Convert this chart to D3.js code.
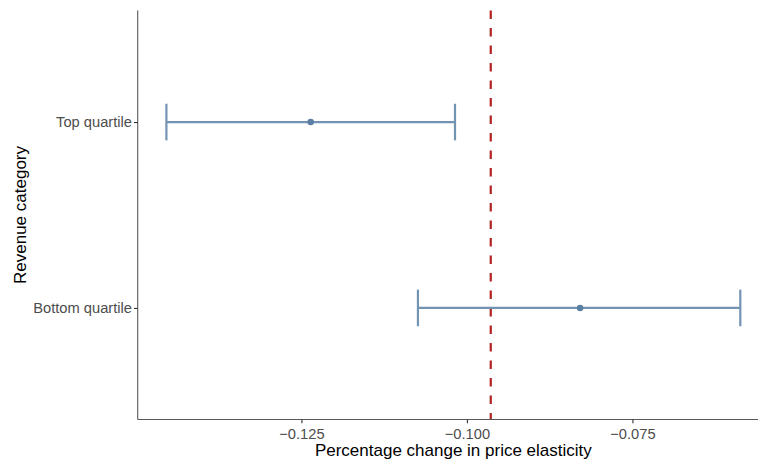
<!DOCTYPE html>
<html><head><meta charset="utf-8">
<script src="https://cdn.jsdelivr.net/npm/d3@7"></script>
<style>body{margin:0;background:#fff}svg{display:block}</style>
</head><body>
<svg id="c" width="758" height="463"></svg>
<script>
const categories = ["Bottom quartile", "Top quartile"];
const estimates = [-0.0829, -0.1236];
const lower = [-0.1074, -0.1454];
const upper = [-0.0587, -0.1018];
const referenceValue = -0.0964;
const xTicks = [-0.125, -0.100, -0.075];
const xTickLabels = ["\u22120.125", "\u22120.100", "\u22120.075"];

(function () {
const svg = d3.select("#c");
const pL = 137.7, pR = 769, pT = 10.5, pB = 419.5;
const font = "Liberation Sans, Arial, sans-serif";

const dmin = d3.min(lower), dmax = d3.max(upper), pad = (dmax - dmin) * 0.05;
const x = d3.scaleLinear().domain([dmin - pad, dmax + pad]).range([pL, pR]);
const y = d3.scalePoint().domain(categories).range([pB, pT]).padding(0.6);

const gray = "#4D4D4D";
const barCol = "#7293B2";
const ptCol = "#5A7FA3";

svg.append("line").attr("x1", x(referenceValue)).attr("x2", x(referenceValue))
  .attr("y1", pT).attr("y2", pB)
  .attr("stroke", "#B22222").attr("stroke-width", 2.2).attr("stroke-dasharray", "8.5,9");

const data = categories.map((c, i) => ({c, e: estimates[i], lo: lower[i], hi: upper[i]}));
const g = svg.append("g");
data.forEach(d => {
  const yy = y(d.c);
  g.append("line").attr("x1", x(d.lo)).attr("x2", x(d.hi)).attr("y1", yy).attr("y2", yy)
    .attr("stroke", barCol).attr("stroke-width", 2.2);
  [d.lo, d.hi].forEach(v => g.append("line").attr("x1", x(v)).attr("x2", x(v))
    .attr("y1", yy - 18.3).attr("y2", yy + 18.3).attr("stroke", barCol).attr("stroke-width", 2.2));
  g.append("circle").attr("cx", x(d.e)).attr("cy", yy).attr("r", 3.3).attr("fill", ptCol);
});

const xa = svg.append("g").attr("transform", `translate(0,${pB})`)
  .call(d3.axisBottom(x).tickValues(xTicks).tickFormat((d, i) => xTickLabels[i]).tickSize(3.7).tickPadding(5.4));
const ya = svg.append("g").attr("transform", `translate(${pL},0)`)
  .call(d3.axisLeft(y).tickSize(3.7).tickPadding(2));
[xa, ya].forEach(a => {
  a.select(".domain").attr("stroke", "#595959").attr("stroke-width", 1.1);
  a.selectAll(".tick line").attr("stroke", "#333333").attr("stroke-width", 1.1);
  a.selectAll("text").attr("fill", gray).style("font-family", font).style("font-size", "14.7px");
});
ya.select(".domain").attr("d", `M0,${pT}V${pB}`);
xa.select(".domain").attr("d", `M${pL},0H${pR}`);

svg.append("text").attr("x", (pL + pR) / 2).attr("y", 455.5).attr("text-anchor", "middle")
  .style("font-family", font).style("font-size", "17px").attr("fill", "#000")
  .text("Percentage change in price elasticity");
svg.append("text").attr("transform", `translate(25.5,${(pT + pB) / 2}) rotate(-90)`).attr("text-anchor", "middle")
  .style("font-family", font).style("font-size", "17px").attr("fill", "#000")
  .text("Revenue category");
})();
</script>
</body></html>
